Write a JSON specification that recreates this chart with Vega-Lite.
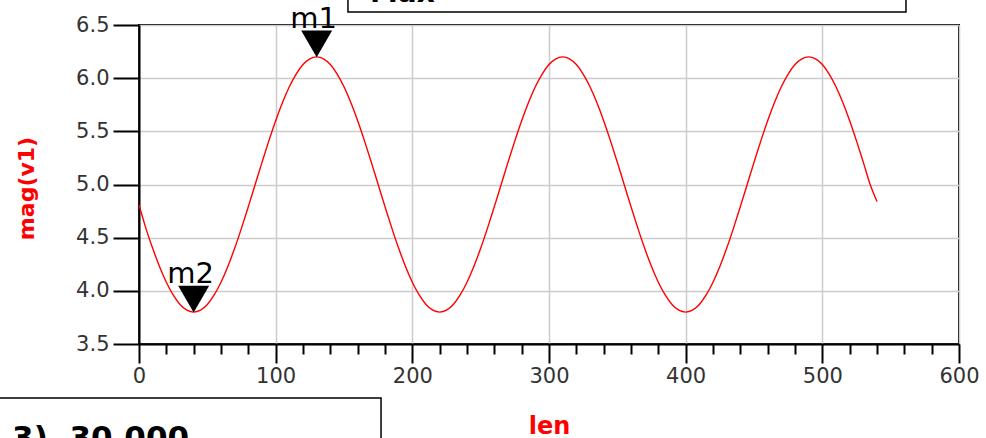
{
  "$schema": "https://vega.github.io/schema/vega-lite/v6.json",
  "autosize": {"type": "none"},
  "padding": {"left": 139, "top": 25, "right": 27, "bottom": 94},
  "width": 820,
  "height": 319,
  "background": "white",
  "config": {
    "view": {"stroke": "black", "strokeWidth": 2},
    "font": "DejaVu Sans"
  },
  "datasets": {
    "curve": [
      {"len":0,"mag":4.81},{"len":5,"mag":4.59},{"len":10,"mag":4.4},{"len":15,"mag":4.229},{"len":20,"mag":4.081},{"len":25,"mag":3.961},{"len":30,"mag":3.872},{"len":35,"mag":3.818},{"len":40,"mag":3.8},{"len":45,"mag":3.818},{"len":50,"mag":3.872},{"len":55,"mag":3.961},{"len":60,"mag":4.081},{"len":65,"mag":4.229},{"len":70,"mag":4.4},{"len":75,"mag":4.59},{"len":80,"mag":4.792},{"len":85,"mag":5.0},{"len":90,"mag":5.208},{"len":95,"mag":5.41},{"len":100,"mag":5.6},{"len":105,"mag":5.771},{"len":110,"mag":5.919},{"len":115,"mag":6.039},{"len":120,"mag":6.128},{"len":125,"mag":6.182},{"len":130,"mag":6.2},{"len":135,"mag":6.182},{"len":140,"mag":6.128},{"len":145,"mag":6.039},{"len":150,"mag":5.919},{"len":155,"mag":5.771},{"len":160,"mag":5.6},{"len":165,"mag":5.41},{"len":170,"mag":5.208},{"len":175,"mag":5.0},
      {"len":180,"mag":4.792},{"len":185,"mag":4.59},{"len":190,"mag":4.4},{"len":195,"mag":4.229},{"len":200,"mag":4.081},{"len":205,"mag":3.961},{"len":210,"mag":3.872},{"len":215,"mag":3.818},{"len":220,"mag":3.8},{"len":225,"mag":3.818},{"len":230,"mag":3.872},{"len":235,"mag":3.961},{"len":240,"mag":4.081},{"len":245,"mag":4.229},{"len":250,"mag":4.4},{"len":255,"mag":4.59},{"len":260,"mag":4.792},{"len":265,"mag":5.0},{"len":270,"mag":5.208},{"len":275,"mag":5.41},{"len":280,"mag":5.6},{"len":285,"mag":5.771},{"len":290,"mag":5.919},{"len":295,"mag":6.039},{"len":300,"mag":6.128},{"len":305,"mag":6.182},{"len":310,"mag":6.2},{"len":315,"mag":6.182},{"len":320,"mag":6.128},{"len":325,"mag":6.039},{"len":330,"mag":5.919},{"len":335,"mag":5.771},{"len":340,"mag":5.6},{"len":345,"mag":5.41},{"len":350,"mag":5.208},{"len":355,"mag":5.0},
      {"len":360,"mag":4.792},{"len":365,"mag":4.59},{"len":370,"mag":4.4},{"len":375,"mag":4.229},{"len":380,"mag":4.081},{"len":385,"mag":3.961},{"len":390,"mag":3.872},{"len":395,"mag":3.818},{"len":400,"mag":3.8},{"len":405,"mag":3.818},{"len":410,"mag":3.872},{"len":415,"mag":3.961},{"len":420,"mag":4.081},{"len":425,"mag":4.229},{"len":430,"mag":4.4},{"len":435,"mag":4.59},{"len":440,"mag":4.792},{"len":445,"mag":5.0},{"len":450,"mag":5.208},{"len":455,"mag":5.41},{"len":460,"mag":5.6},{"len":465,"mag":5.771},{"len":470,"mag":5.919},{"len":475,"mag":6.039},{"len":480,"mag":6.128},{"len":485,"mag":6.182},{"len":490,"mag":6.2},{"len":495,"mag":6.182},{"len":500,"mag":6.128},{"len":505,"mag":6.039},{"len":510,"mag":5.919},{"len":515,"mag":5.771},{"len":520,"mag":5.6},{"len":525,"mag":5.41},{"len":530,"mag":5.208},{"len":535,"mag":5.0},{"len":540,"mag":4.84}
    ],
    "markers": [
      {"name":"m1","len":130,"mag":6.2},
      {"name":"m2","len":40,"mag":3.8}
    ],
    "boxes": [
      {"x1":152.9,"x2":561.2,"y1":6.622,"y2":7.6},
      {"x1":-120,"x2":177.1,"y1":2.0,"y2":2.992}
    ],
    "notes": [
      {"label":"Max","x":169,"y":6.72,"align":"left"},
      {"label":"3)\u00a0\u00a030.000","x":36.6,"y":2.522,"align":"right"}
    ]
  },
  "layer": [
    {
      "data": {"name": "curve"},
      "mark": {"type": "line", "color": "#ff0000", "strokeWidth": 1.4, "interpolate": "monotone", "clip": true},
      "encoding": {
        "x": {
          "field": "len", "type": "quantitative",
          "scale": {"domain": [0, 600], "nice": false, "zero": false},
          "axis": {
            "orient": "bottom",
            "values": [0, 100, 200, 300, 400, 500, 600],
            "title": "len",
            "titleColor": "#ff0000", "titleFont": "DejaVu Sans", "titleFontWeight": "bold", "titleFontSize": 24,
            "titleBaseline": "alphabetic", "titleY": 89, "titleX": 410,
            "labelFont": "DejaVu Sans", "labelFontSize": 21, "labelColor": "#333333", "labelPadding": 2, "labelFlush": false,
            "tickSize": 19, "tickColor": "black", "tickWidth": 2,
            "domainColor": "black", "domainWidth": 2,
            "grid": true, "gridColor": "#cccccc", "gridWidth": 1.5
          }
        },
        "y": {
          "field": "mag", "type": "quantitative",
          "scale": {"domain": [3.5, 6.5], "nice": false, "zero": false},
          "axis": {
            "values": [3.5, 4.0, 4.5, 5.0, 5.5, 6.0, 6.5],
            "format": ".1f",
            "title": "mag(v1)",
            "titleColor": "#ff0000", "titleFont": "DejaVu Sans", "titleFontWeight": "bold", "titleFontSize": 22,
            "titleX": -113, "titleY": 163, "titleBaseline": "middle", "titleAngle": -90, "titleAlign": "center",
            "labelFont": "DejaVu Sans", "labelFontSize": 21, "labelColor": "#333333", "labelPadding": 4, "labelFlush": false,
            "tickSize": 26, "tickColor": "black", "tickWidth": 2,
            "domainColor": "black", "domainWidth": 2,
            "grid": true, "gridColor": "#cccccc", "gridWidth": 1.5
          }
        }
      }
    },
    {
      "data": {"name": "markers"},
      "mark": {"type": "point", "shape": "triangle-down", "filled": true, "color": "black", "opacity": 1, "size": 960, "yOffset": -13, "clip": false},
      "encoding": {
        "x": {"field": "len", "type": "quantitative", "axis": null},
        "y": {"field": "mag", "type": "quantitative"}
      }
    },
    {
      "data": {"name": "markers"},
      "mark": {"type": "text", "font": "DejaVu Sans", "fontSize": 29, "color": "black", "align": "center", "baseline": "alphabetic", "dy": -29, "dx": -3, "clip": false},
      "encoding": {
        "x": {"field": "len", "type": "quantitative", "axis": null},
        "y": {"field": "mag", "type": "quantitative"},
        "text": {"field": "name"}
      }
    },
    {
      "data": {"name": "boxes"},
      "mark": {"type": "rect", "fill": "white", "stroke": "black", "strokeWidth": 1.5, "clip": false},
      "encoding": {
        "x": {"field": "x1", "type": "quantitative", "axis": null},
        "x2": {"field": "x2"},
        "y": {"field": "y1", "type": "quantitative"},
        "y2": {"field": "y2"}
      }
    },
    {
      "data": {"name": "notes"},
      "transform": [{"filter": "datum.align == 'left'"}],
      "mark": {"type": "text", "font": "DejaVu Sans", "fontWeight": "bold", "fontSize": 28, "color": "black", "align": "left", "baseline": "alphabetic", "clip": false},
      "encoding": {
        "x": {"field": "x", "type": "quantitative", "axis": null},
        "y": {"field": "y", "type": "quantitative"},
        "text": {"field": "label"}
      }
    },
    {
      "data": {"name": "notes"},
      "transform": [{"filter": "datum.align == 'right'"}],
      "mark": {"type": "text", "font": "DejaVu Sans", "fontWeight": "bold", "fontSize": 31, "color": "black", "align": "right", "baseline": "alphabetic", "clip": false},
      "encoding": {
        "x": {"field": "x", "type": "quantitative", "axis": null},
        "y": {"field": "y", "type": "quantitative"},
        "text": {"field": "label"}
      }
    },
    {
      "data": {"values": [{"t":20},{"t":40},{"t":60},{"t":80}]},
      "mark": {"type": "tick", "opacity": 0},
      "encoding": {
        "x": {
          "field": "t", "type": "quantitative",
          "axis": {
            "orient": "bottom",
            "values": [20,40,60,80,120,140,160,180,220,240,260,280,320,340,360,380,420,440,460,480,520,540,560,580],
            "labels": false, "title": null, "grid": false, "domain": false,
            "tickSize": 10, "tickColor": "black", "tickWidth": 2
          }
        }
      }
    }
  ],
  "resolve": {"axis": {"x": "independent"}}
}
